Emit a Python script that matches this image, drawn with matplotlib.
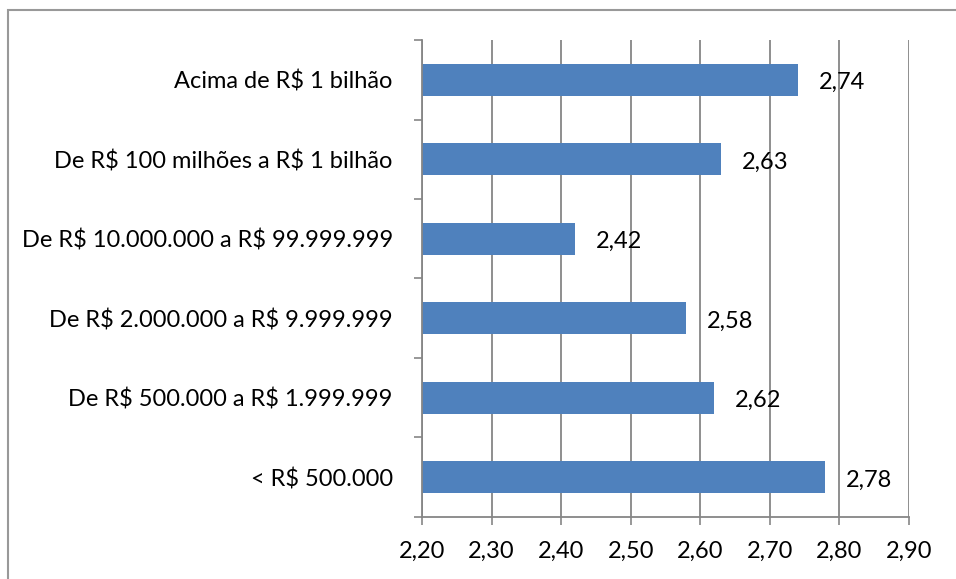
import matplotlib.pyplot as plt
import matplotlib.patches as mpatches
import numpy as np

faixas = [
    "< R$ 500.000",
    "De R$ 500.000 a R$ 1.999.999",
    "De R$ 2.000.000 a R$ 9.999.999",
    "De R$ 10.000.000 a R$ 99.999.999",
    "De R$ 100 milhões a R$ 1 bilhão",
    "Acima de R$ 1 bilhão",
]
medias = [2.78, 2.62, 2.58, 2.42, 2.63, 2.74]
ticks_x = [2.20, 2.30, 2.40, 2.50, 2.60, 2.70, 2.80, 2.90]

plt.rcParams["font.family"] = ["Lato", "DejaVu Sans"]
plt.rcParams["font.size"] = 17
plt.rcParams["text.parse_math"] = False

cinza = "#868686"
azul = "#4F81BD"

fig = plt.figure(figsize=(9.56, 5.79), dpi=100)
ax = fig.add_axes([0.4414, 0.1071, 0.5094, 0.8238])

y = np.arange(len(faixas))
ax.barh(y, medias, height=0.4, left=0, color=azul, zorder=3)

for yi, v in zip(y, medias):
    ax.annotate(f"{v:.2f}".replace(".", ","), (v, yi), xytext=(15, -2),
                textcoords="offset points", va="center", ha="left")

ax.set_xlim(2.20, 2.90)
ax.set_ylim(-0.5, len(faixas) - 0.5)
ax.set_xticks(ticks_x)
ax.set_xticklabels([f"{t:.2f}".replace(".", ",") for t in ticks_x])
ax.set_yticks(y)
ax.set_yticklabels(faixas)
ax.set_yticks(np.arange(-0.5, len(faixas), 1), minor=True)

ax.tick_params(axis="y", which="major", length=0, pad=21)
ax.tick_params(axis="y", which="minor", length=6, width=1.2, color=cinza)
ax.tick_params(axis="x", length=6, width=1.2, color=cinza, pad=11)

ax.grid(axis="x", color=cinza, linewidth=1.3, zorder=0)
for lado in ["top", "right"]:
    ax.spines[lado].set_visible(False)
for lado in ["left", "bottom"]:
    ax.spines[lado].set_color(cinza)
    ax.spines[lado].set_linewidth(1.3)
    ax.spines[lado].set_zorder(4)

# moldura do gráfico
fig.patches.append(mpatches.Rectangle((8 / 956, -0.1), 1.2, 1 - 10 / 579 + 0.1,
                                      transform=fig.transFigure, fill=False,
                                      edgecolor="#999999", linewidth=1.5))

fig.savefig("out.png", dpi=100)
